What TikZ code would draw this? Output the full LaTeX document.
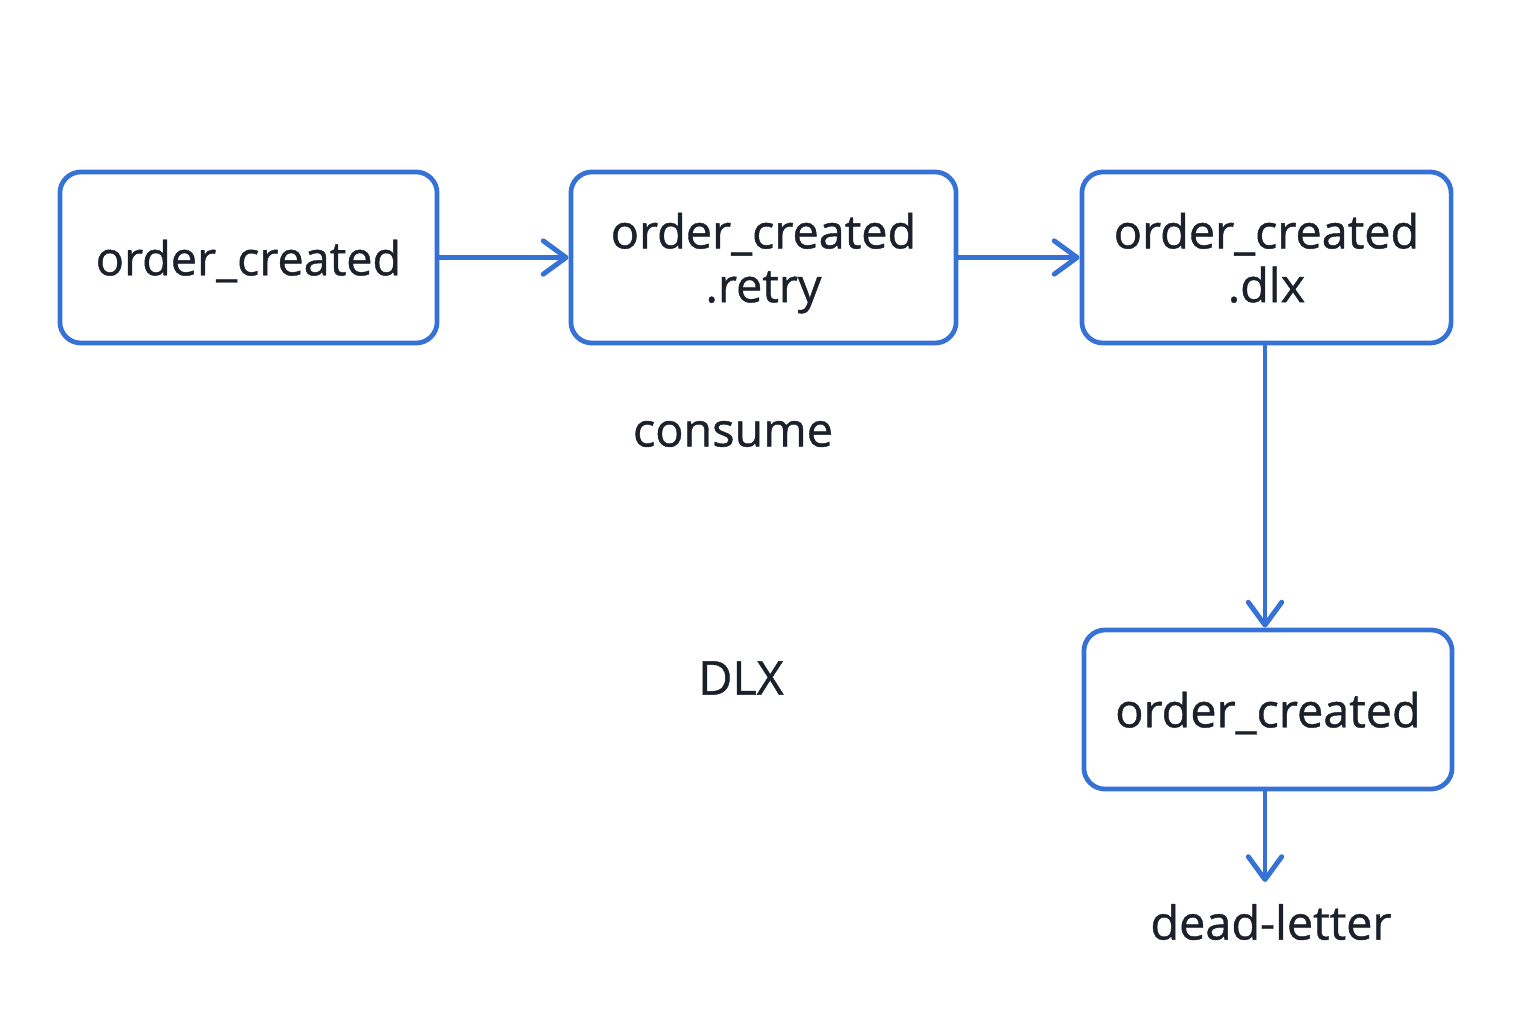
\documentclass[tikz,border=0pt]{standalone}
\usepackage{fontspec}
\setmainfont{Open Sans}[FakeBold=0.9]
\usepackage{xcolor}
\usetikzlibrary{arrows.meta,positioning}
\definecolor{qblue}{HTML}{3672D6}
\definecolor{qtext}{HTML}{1B202A}
\tikzset{
  queue/.style ={rectangle,rounded corners=6pt,draw=qblue,line width=1.35pt,inner sep=0pt,
                 align=center,font=\fontsize{13.3}{15.3}\selectfont,text=qtext,text depth=0pt},
  twoline/.style={text depth=-2.2pt},
  flow/.style  ={draw=qblue,line width=1.4pt,-{Straight Barb[length=6.5pt,width=9.5pt,round]}},
  tag/.style   ={font=\fontsize{13.3}{15.3}\selectfont,text=qtext},
}
\begin{document}
\begin{tikzpicture}[x=0.01cm,y=-0.01cm]
  \useasboundingbox (0,0) rectangle (1536,1024);
  \node[queue,minimum width=3.77cm,minimum height=1.71cm](main) at (248.5,257.5){order\_created};
  \node[queue,twoline,minimum width=3.85cm,minimum height=1.71cm](retry) at (763.5,257.5){order\_created\\.retry};
  \node[queue,twoline,minimum width=3.69cm,minimum height=1.71cm](dlx) at (1266.5,257.5){order\_created\\.dlx};
  \node[queue,minimum width=3.68cm,minimum height=1.59cm](dead) at (1268,709.5){order\_created};
  \coordinate (sink) at (1265,882);
  \node[tag](consume) at (733,434){consume};
  \node[tag](dlxlbl) at (741,678){DLX};
  \node[tag](deadlbl) at (1271,922){dead-letter};
  \draw[flow](main)--(retry); \draw[flow](retry)--(dlx);
  \draw[flow](dlx.south -| sink)--(dead.north -| sink);
  \draw[flow](dead.south -| sink)--(sink);
\end{tikzpicture}
\end{document}
